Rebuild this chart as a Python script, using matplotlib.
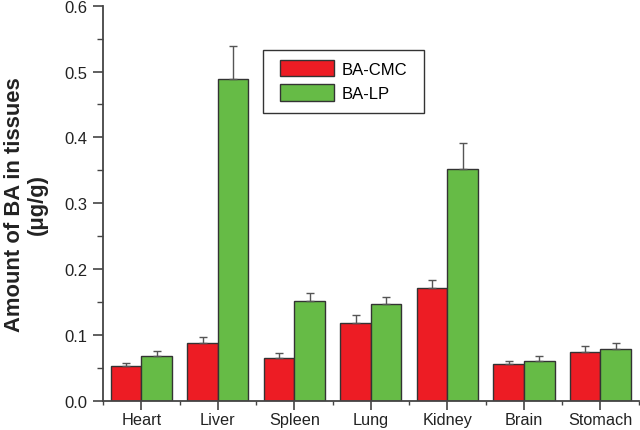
import matplotlib
matplotlib.use("Agg")
import matplotlib.pyplot as plt
import numpy as np
from matplotlib.ticker import MultipleLocator, FixedLocator
from matplotlib.patches import Rectangle

plt.rcParams['font.family'] = ['Liberation Sans', 'DejaVu Sans']

categories = ["Heart", "Liver", "Spleen", "Lung", "Kidney", "Brain", "Stomach"]
cmc = [0.053, 0.087, 0.065, 0.1185, 0.171, 0.056, 0.0745]
cmc_err = [0.005, 0.010, 0.007, 0.012, 0.013, 0.005, 0.008]
lp = [0.068, 0.488, 0.152, 0.147, 0.352, 0.061, 0.079]
lp_err = [0.007, 0.050, 0.012, 0.011, 0.040, 0.007, 0.008]

red = "#ED1C24"
green = "#66BB46"
edge = "#333333"

fig = plt.figure(figsize=(6.4, 4.31), dpi=100)
ax = fig.add_axes([0.161, 0.068, 0.837, 0.9165])

x = np.arange(1, len(categories) + 1)
w = 0.4
ekw = dict(ecolor="#555555", elinewidth=1.0, capsize=3, capthick=1.0)
ax.bar(x - w/2, cmc, w, color=red, edgecolor=edge, linewidth=1.0, label="BA-CMC",
       yerr=[np.zeros(len(cmc)), cmc_err], error_kw=ekw)
ax.bar(x + w/2, lp, w, color=green, edgecolor=edge, linewidth=1.0, label="BA-LP",
       yerr=[np.zeros(len(lp)), lp_err], error_kw=ekw)

ax.set_xlim(0.5, 7.5)
ax.set_ylim(0, 0.6)
ax.set_xticks(x)
ax.set_xticklabels(categories, fontsize=11.7, color="#222222")
ax.xaxis.set_minor_locator(FixedLocator(np.arange(0.5, 8.0, 1.0)))
ax.yaxis.set_minor_locator(MultipleLocator(0.05))
ax.set_yticks(np.arange(0, 0.61, 0.1))
ax.set_yticklabels([f"{v:.1f}" for v in np.arange(0, 0.61, 0.1)], fontsize=12, color="#222222")

for s in ["top", "right"]:
    ax.spines[s].set_visible(False)
for s in ["left", "bottom"]:
    ax.spines[s].set_color("#444444")
    ax.spines[s].set_linewidth(1.3)

ax.tick_params(axis="y", which="major", direction="out", length=7, width=1.2, color="#444444", pad=4)
ax.tick_params(axis="y", which="minor", direction="out", length=4, width=1.0, color="#444444")
ax.tick_params(axis="x", which="major", direction="out", length=6.2, width=1.2, color="#444444", pad=2)
ax.tick_params(axis="x", which="minor", direction="out", length=3, width=1.0, color="#444444")

ax.set_ylabel("Amount of BA in tissues\n(μg/g)", fontsize=15.8, fontweight="bold", color="#222222",
              labelpad=12, linespacing=1.1)

# legend frame box
ax.add_patch(Rectangle((0.2985, 0.7295), 0.3004, 0.1583, transform=ax.transAxes,
                       facecolor="white", edgecolor="#333333", linewidth=1.0, zorder=4))
leg = ax.legend(loc="upper left", bbox_to_anchor=(0.3302, 0.862), borderaxespad=0, borderpad=0,
                fontsize=12, frameon=False, handlelength=3.24, handleheight=1.12,
                labelspacing=0.45, handletextpad=0.45)
leg.set_zorder(5)

fig.savefig("out.png", dpi=100)
